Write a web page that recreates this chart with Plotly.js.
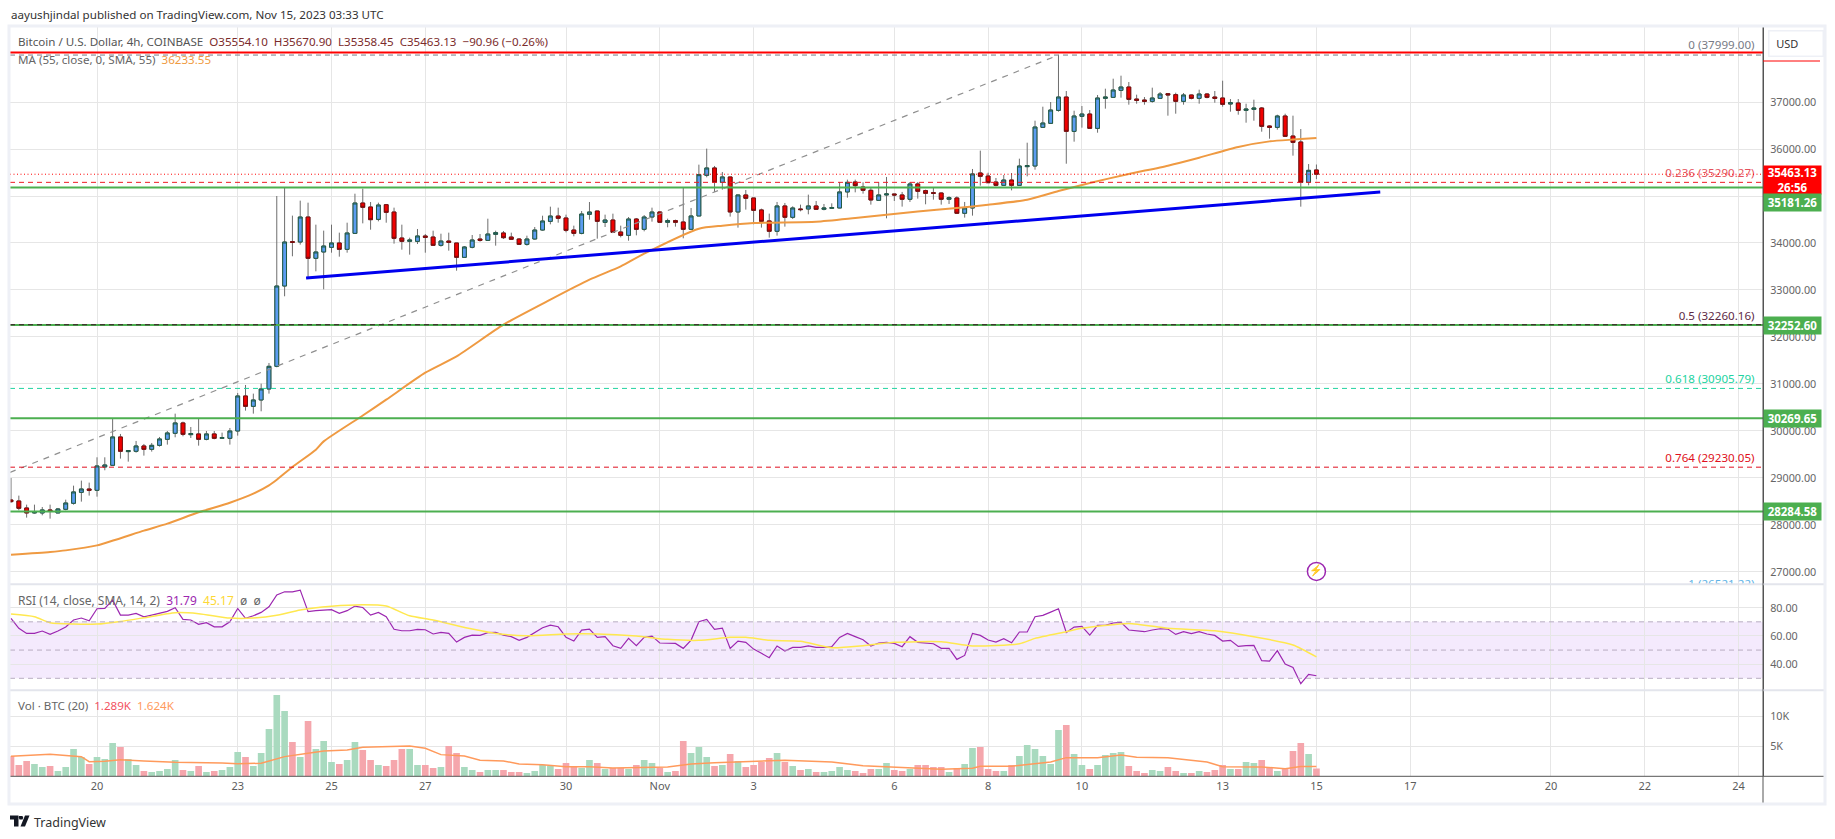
<!DOCTYPE html>
<html>
<head>
<meta charset="utf-8">
<script src="https://cdn.plot.ly/plotly-3.0.1.min.js"></script>
<style>html,body{margin:0;padding:0;background:#fff;overflow:hidden}</style>
</head>
<body>
<div id="chart" style="width:1835px;height:839px"></div>
<script>
const openPrice = [28532,28511,28362,28256,28256,28320,28256,28334,28462,28695,
28766,28738,29235,29270,29873,29561,29568,29681,29610,29695,
29823,29951,30171,29922,29937,29823,29937,29844,29844,30000,
30745,30525,30660,30894,31376,33085,34029,34021,34553,33674,
33809,33908,34000,33865,34205,34851,34766,34503,34815,34659,
34106,34035,34035,34149,34127,33950,34042,34000,33695,33908,
34085,34056,34184,34213,34127,34085,33971,34085,34276,34461,
34574,34532,34276,34205,34610,34681,34439,34489,34234,34163,
34510,34291,34553,34660,34440,34476,34447,34291,34575,35440,
35596,35291,35405,34660,35022,34958,34703,34469,34249,34788,
34547,34724,34724,34788,34717,34738,34745,35086,35298,35192,
35121,34908,35022,35043,35022,34930,35256,35114,35071,35064,
34930,34958,34632,34745,35490,35425,35297,35227,35340,35227,
35624,35638,36461,36546,36822,37106,36375,36695,36744,36439,
37078,37099,37248,37319,37063,37042,37014,37078,37177,37156,
37014,37149,37078,37170,37106,37085,36957,36978,36822,36843,
36872,36489,36461,36702,36276,36149,35290,35554];
const closePrice = [28497,28355,28256,28277,28320,28298,28341,28468,28703,28766,
28738,29256,29277,29873,29568,29582,29681,29610,29695,29830,
29958,30171,29929,29944,29823,29937,29844,29859,30000,30745,
30525,30660,30894,31376,33085,34021,34014,34553,33674,33809,
33936,34000,33865,34213,34851,34759,34496,34808,34652,34099,
34035,34064,34149,34120,33950,34042,34014,33695,33915,34064,
34056,34191,34220,34113,34078,33971,34085,34276,34468,34574,
34525,34269,34205,34617,34659,34461,34489,34227,34163,34510,
34291,34553,34659,34440,34476,34440,34291,34575,35454,35596,
35291,35405,34660,35022,34951,34695,34461,34249,34788,34547,
34745,34710,34788,34717,34745,34752,35086,35291,35220,35121,
34915,35022,35043,35022,34930,35256,35100,35057,35057,34930,
34965,34632,34745,35469,35419,35283,35227,35340,35227,35638,
35645,36468,36553,36829,37106,36375,36702,36744,36439,37085,
37106,37255,37319,37056,37035,37014,37085,37170,37149,37014,
37149,37078,37170,37099,37078,36950,36985,36822,36851,36872,
36482,36461,36702,36269,36141,35290,35546,35463];
const highPrice = [29000,28625,28433,28433,28383,28433,28362,28539,28837,28944,
28901,29440,29440,30270,29937,29589,29788,29724,29745,29873,
30000,30369,30199,30085,30270,30000,30000,29965,30064,30809,
30979,30795,31007,31447,35000,35178,34582,34901,34858,34390,
34263,34390,34220,34432,35049,35156,34872,34858,34830,34752,
34390,34113,34298,34191,34262,34198,34220,34000,33936,34170,
34191,34517,34262,34255,34220,34106,34156,34340,34581,34773,
34752,34603,34369,34681,34872,34681,34603,34624,34369,34553,
34532,34595,34752,34674,34518,34497,35185,34745,35667,36008,
35639,35511,35405,35029,35128,34958,34731,34625,34873,34852,
34781,34816,35029,34894,34830,34844,35298,35348,35348,35291,
35185,35298,35405,35043,35086,35298,35298,35135,35178,35071,
34993,34993,34873,35575,35965,35496,35383,35446,35489,35794,
36134,36602,36900,37000,37999,37234,36815,36914,36829,37149,
37283,37496,37560,37425,37156,37106,37305,37212,37177,37198,
37191,37156,37262,37191,37234,37453,37063,37063,36964,37049,
36893,36503,36730,36751,36709,36425,35680,35670];
const lowPrice = [28469,28312,28157,28242,28206,28135,28249,28312,28433,28497,
28625,28603,29164,29270,29412,29348,29539,29476,29561,29667,
29710,29866,29887,29851,29688,29802,29823,29844,29710,29901,
30433,30369,30419,30795,31355,32866,33717,33965,33256,33397,
33015,33794,33709,33794,34205,34418,34283,34461,34432,33986,
33858,33752,33978,33794,33943,33922,33837,33411,33688,33886,
34028,34049,33943,34085,34071,33964,33943,34071,34262,34397,
34432,34227,34142,34184,34496,34092,34340,34213,34120,34049,
34163,34248,34454,34426,34334,34348,34100,34291,34575,35398,
35086,35135,34561,34327,34710,34398,34327,34114,34157,34348,
34511,34674,34610,34710,34695,34731,34738,34965,35078,35050,
34816,34901,34525,34894,34774,34873,34944,34823,34922,34816,
34830,34625,34540,34582,35220,35276,35205,35219,35120,35227,
35418,35560,36454,36539,36794,35687,36156,36454,36432,36347,
36858,37099,37092,36943,36964,36943,36985,37071,36709,36751,
36943,37056,36964,37078,36985,36900,36794,36730,36560,36602,
36368,36219,36411,36255,35858,34773,35227,35358];

const maBars = [0,5,7,11,17,20,24,28,31,33,34,36,39,40,45,48,53,57,63,69,74,78,81,88,91,95,103,108,116,121,125,130,134,138,143,148,152,157,161,164,167];
const maValues = [27368,27426,27460,27566,27880,28028,28270,28474,28666,28843,28964,29234,29602,29779,30330,30666,31240,31587,32262,32794,33219,33502,33772,34304,34368,34426,34453,34532,34672,34745,34815,34921,35106,35277,35468,35645,35815,36043,36162,36200,36233];

const rsiValues = [72.5,65.4,61.8,61.8,63.5,61.1,63.5,66.3,71.3,72.7,70.8,79.3,79.5,85.4,74.8,74.8,76.0,73.6,74.8,76.0,77.4,80.0,71.7,71.3,68.2,69.4,66.5,66.5,70.1,79.5,72.5,74.3,76.7,80.7,89.0,91.3,91.3,92.5,77.2,77.9,78.4,78.6,76.0,77.9,81.2,80.2,74.8,76.7,73.6,64.7,63.7,63.7,64.7,64.4,61.4,62.5,61.8,55.7,59.0,60.6,60.4,62.3,62.5,60.6,59.5,56.9,59.0,62.5,65.8,67.7,66.5,59.0,56.4,64.2,64.9,59.0,59.5,53.1,51.2,58.3,53.1,
59.0,59.9,55.0,55.0,54.7,51.2,57.1,70.1,71.7,64.7,65.6,51.2,56.4,55.5,50.7,47.7,44.6,52.9,49.3,51.9,51.9,52.9,51.9,51.9,52.4,59.0,61.8,59.5,57.3,52.9,55.0,55.5,54.7,52.4,59.5,55.5,55.0,54.5,51.2,51.2,43.4,46.2,61.8,60.4,57.1,55.7,58.1,55.2,62.8,62.8,73.6,74.6,76.9,79.3,62.5,66.3,66.8,60.6,67.5,67.5,69.2,69.6,64.2,63.5,63.0,64.2,65.1,64.9,61.1,63.0,61.6,63.0,61.4,60.4,56.4,56.9,52.6,53.1,53.3,42.5,42.2,49.6,40.1,37.7,26.2,32.8,31.79];
const rsiMaBars = [0,3,5,8,11,14,17,21,24,28,31,34,37,41,45,48,51,54,59,62,66,71,75,80,84,88,92,94,97,101,105,109,113,119,123,129,131,135,137,143,148,154,159,164,167];
const rsiMaValues = [75.5,73.6,69.4,68.4,68.4,70.3,72.9,76.5,75.8,72.7,72.7,74.6,78.4,81.0,82.1,81.2,74.3,71.3,64.9,61.8,60.2,61.4,61.4,59.9,57.6,56.9,59.0,59.0,56.9,56.2,51.7,53.1,55.5,55.9,52.9,54.5,58.3,63.0,65.4,68.9,65.4,63.7,59.5,53.6,45.17];

const volumeValues = [3389,1889,2556,2056,1556,1722,889,1556,4556,3222,2056,3222,2889,5556,4889,2889,1889,889,722,889,1222,2722,1056,889,1722,722,889,1056,1556,4056,3222,1722,3889,7889,13556,10889,5722,3222,9222,4556,5889,2389,2056,2722,5722,4389,2722,1889,1722,2722,4556,4556,1889,1889,1389,1556,5056,3889,1556,1056,722,1056,1056,1056,722,722,556,889,1889,1722,1222,2222,1556,1389,2722,2222,1222,1389,1389,1222,1889,
2722,2222,1389,722,889,5889,3889,4889,3222,1722,1889,3722,2556,1556,1889,2389,3056,3889,2389,1722,1056,1222,722,722,889,1556,1056,889,556,1222,1222,2222,1056,889,1222,1889,1889,1556,1556,722,1389,2056,4722,4889,1222,889,889,1889,3389,5222,4556,3389,2056,7722,8556,3722,1889,1222,1889,3556,3889,4056,1722,889,556,1056,889,1556,889,556,556,889,722,1056,1889,1222,1222,2389,2222,2722,1556,889,1222,4222,5556,3722,1289];
const volMaBars = [0,2,5,9,10,12,14,17,21,27,29,32,35,38,40,43,45,51,53,55,58,60,63,65,68,71,74,77,80,84,87,90,99,105,109,115,119,123,124,128,133,135,139,142,144,148,153,155,160,163,165,167];
const volMaValues = [3333,3500,3667,3278,2444,2500,2778,2556,2333,2222,2111,2167,3278,3833,4222,4389,4833,5056,4667,3611,3389,2667,2556,2056,1944,1611,1611,1389,1444,1556,2056,2278,2667,2389,1778,1444,1167,1333,1667,1667,2389,3111,3111,3556,3167,3111,2389,1611,1556,1278,1650,1624];

const supportLevels = [35181.26,32252.60,30269.65,28284.58];
const supportLabels = ['35181.26','32252.60','30269.65','28284.58'];
const resistanceLevel = 38055;
const currentPrice = 35463.13;
const fibValues = [37999,35290.27,32260.16,30905.79,29230.05,26521.22];
const fibLabelAnchor = [38074,35340,32310,30955,29280,26600];
const fibLabelText = ['0 (37999.00)','0.236 (35290.27)','0.5 (32260.16)','0.618 (30905.79)','0.764 (29230.05)','1 (26521.22)'];
const fibColors = ['#787b86','#e5525c','#5d2a45','#22d3a0','#e01020','#5fb3e6'];
const priceTicks = [27000,28000,29000,30000,31000,32000,33000,34000,35000,36000,37000];
const rsiTicks = [40,60,80];
const volTicks = [5000,10000];
const volTickText = ['5K','10K'];
const dateTicks = ['2023-10-20','2023-10-23','2023-10-25','2023-10-27','2023-10-30','2023-11-01','2023-11-03','2023-11-06','2023-11-08','2023-11-10','2023-11-13','2023-11-15','2023-11-17','2023-11-20','2023-11-22','2023-11-24'];
const dateTickText = ['20','23','25','27','30','Nov','3','6','8','10','13','15','17','20','22','24'];
const trendDates = ['2023-10-18 03:30','2023-11-09 12:00'];
const trendPrices = [29119,37999];
const blueDates = ['2023-10-24 11:00','2023-11-16 08:40'];
const bluePrices = [33255,35085];

const W = 1835, H = 839;
const X = p => p / W, Y = p => 1 - p / H;
const FONT = 'Noto Sans';
const barDate = i => new Date(Date.UTC(2023, 9, 18, 4) + i * 4 * 3600e3).toISOString().slice(0, 16).replace('T', ' ');
const dates = openPrice.map((_, i) => barDate(i));
const atBars = arr => arr.map(barDate);
const bodyTop = openPrice.map((o, i) => Math.max(o, closePrice[i]));
const bodyBottom = openPrice.map((o, i) => Math.min(o, closePrice[i]));
const BODY = 4 * 3600e3 * 0.66;

const traces = [
  {type:'candlestick', x:dates, open:openPrice, high:highPrice, low:lowPrice, close:closePrice, xaxis:'x', yaxis:'y', width:BODY,
   increasing:{line:{color:'#6e6e6e',width:1}, fillcolor:'#6e6e6e'}, decreasing:{line:{color:'#6e6e6e',width:1}, fillcolor:'#6e6e6e'}, whiskerwidth:0},
  {type:'candlestick', x:dates, open:openPrice, high:bodyTop, low:bodyBottom, close:closePrice, xaxis:'x', yaxis:'y', width:BODY,
   increasing:{line:{color:'#1f5a45',width:1}, fillcolor:'#5b9cf0'}, decreasing:{line:{color:'#7a0c0c',width:1}, fillcolor:'#f00000'}, whiskerwidth:0},
  {type:'scatter', mode:'lines', x:atBars(maBars), y:maValues, line:{color:'#ef9a42',width:2,shape:'spline',smoothing:0.6}, xaxis:'x', yaxis:'y'},
  {type:'scatter', mode:'lines', x:trendDates, y:trendPrices, line:{color:'#8f8f8f',width:1.2,dash:'6px,6px'}, xaxis:'x', yaxis:'y'},
  {type:'scatter', mode:'lines', x:blueDates, y:bluePrices, line:{color:'#0000ee',width:3}, xaxis:'x', yaxis:'y'},
  {type:'scatter', mode:'markers+text', x:['2023-11-15'], y:[27013], text:['⚡'], textposition:'middle center', textfont:{color:'#9c27b0',size:11},
   marker:{size:18,color:'#ffffff',line:{color:'#9c27b0',width:1.5}}, xaxis:'x', yaxis:'y'},
  {type:'scatter', mode:'text', x:fibValues.map(()=>'2023-11-24 08:10'), y:fibLabelAnchor, text:fibLabelText, textposition:'top left',
   textfont:{family:FONT,size:11.6,color:fibColors}, xaxis:'x', yaxis:'y', cliponaxis:true},
  {type:'scatter', mode:'lines', x:dates, y:rsiValues, line:{color:'#9c27b0',width:1.2}, xaxis:'x2', yaxis:'y2'},
  {type:'scatter', mode:'lines', x:atBars(rsiMaBars), y:rsiMaValues, line:{color:'#ffe84f',width:1.5,shape:'spline',smoothing:0.6}, xaxis:'x2', yaxis:'y2'},
  {type:'bar', x:dates, y:volumeValues, marker:{color:openPrice.map((o,i)=>closePrice[i]>=o?'#a9dabf':'#f5a6ac'), line:{width:0}}, xaxis:'x3', yaxis:'y3'},
  {type:'scatter', mode:'lines', x:atBars(volMaBars), y:volMaValues, line:{color:'#ff9a5c',width:1.5}, xaxis:'x3', yaxis:'y3'}
];

const RANGE = ['2023-10-18 03:29','2023-11-24 12:31'];
const gridColor = '#e6e6e6';
const xBase = {type:'date', range:RANGE, domain:[X(10),X(1763)], tickmode:'array', tickvals:dateTicks, ticktext:dateTickText,
  showgrid:true, gridcolor:gridColor, gridwidth:1, zeroline:false, showline:false, ticks:'', fixedrange:true,
  rangeslider:{visible:false}};
const yBase = {side:'right', zeroline:false, gridcolor:gridColor, gridwidth:1, showgrid:true, tickmode:'array', ticks:'', fixedrange:true,
  showline:true, linecolor:'#555555', linewidth:1, ticklabelstandoff:4,
  tickfont:{family:FONT,size:10.8,color:'#666666'}};

const pxLine = (x0,y0,x1,y1,color,width) => ({type:'line',xref:'paper',yref:'paper',x0:X(x0),y0:Y(y0),x1:X(x1),y1:Y(y1),line:{color,width},layer:'above'});
const levelLine = (v,color,width,dash,yref='y') => ({type:'line',xref:'paper',yref,x0:X(10),x1:X(1763),y0:v,y1:v,line:{color,width,dash},layer:'above'});

const P = (x,y) => X(x).toFixed(5)+','+Y(y).toFixed(5);
const logoT = `M${P(10,815.5)} L${P(18.5,815.5)} L${P(18.5,826.5)} L${P(14,826.5)} L${P(14,819.5)} L${P(10,819.5)} Z`;
const logoDot = `M${P(19,816)} L${P(22.5,816)} L${P(23.2,817.8)} L${P(22.5,819.5)} L${P(19.5,819.5)} L${P(18.8,817.8)} Z`;
const logoV = `M${P(25,815.5)} L${P(29.5,815.5)} L${P(25,826.5)} L${P(20.5,826.5)} Z`;

const shapes = [
  {type:'rect',xref:'paper',yref:'y2',x0:X(10),x1:X(1763),y0:30,y1:70,fillcolor:'rgba(156,60,235,0.11)',line:{width:0},layer:'below'},
  levelLine(70,'#b8adc2',1,'5px,4px','y2'),
  levelLine(50,'#b8adc2',1,'5px,4px','y2'),
  levelLine(30,'#b8adc2',1,'5px,4px','y2'),
  levelLine(resistanceLevel,'#ff0000',2,'solid'),
  levelLine(currentPrice,'#ff0000',1,'1px,2.5px'),
  ...supportLevels.map(v=>levelLine(v,'#4caf50',2,'solid')),
  ...fibValues.slice(0,5).map((v,i)=>levelLine(v,i===2?'#3a1024':(i===1?'#ee1c25':fibColors[i]),1,'5px,4px')),
  pxLine(10,584.3,1825,584.3,'#e3e5ec',2),
  pxLine(10,690.3,1825,690.3,'#e3e5ec',2),
  pxLine(10,776.3,1825,776.3,'#555555',1),
  pxLine(1763,26,1763,803,'#555555',1),
  pxLine(1763,61,1820,61,'#ff0000',1),
  {type:'rect',xref:'paper',yref:'paper',x0:X(9),x1:X(1825),y0:Y(26),y1:Y(804),line:{color:'#eef0f6',width:3},fillcolor:'rgba(0,0,0,0)',layer:'above'},
  {type:'path',xref:'paper',yref:'paper',path:logoT,fillcolor:'#131722',line:{width:0}},
  {type:'path',xref:'paper',yref:'paper',path:logoDot,fillcolor:'#131722',line:{width:0}},
  {type:'path',xref:'paper',yref:'paper',path:logoV,fillcolor:'#131722',line:{width:0}}
];

const txt = (x,y,text,size,color,extra={}) => Object.assign({xref:'paper',yref:'paper',x:X(x),y:Y(y),xanchor:'left',yanchor:'middle',text,showarrow:false,
  font:{family:FONT,size,color},align:'left'},extra);
const tag = (v,label) => ({xref:'paper',yref:'y',x:X(1763),y:v,xanchor:'left',yanchor:'middle',text:'<b>'+label+'</b>',showarrow:false,
  font:{family:FONT,size:11.5,color:'#ffffff'},bgcolor:'#4caf50',width:57,height:17,align:'center',borderpad:0});
const c = (col,t) => `<span style="color:${col}">${t}</span>`;
const DR = '#7b2b2b';

const annotations = [
  txt(8.5,15,'aayushjindal published on TradingView.com, Nov 15, 2023 03:33 UTC',11.6,'#333333'),
  txt(16,41.7,c('#555555','Bitcoin / U.S. Dollar, 4h, COINBASE')+'  '+c(DR,'O35554.10  H35670.90  L35358.45  C35463.13  −90.96 (−0.26%)'),11.6,DR),
  txt(16,59,c('#666666','MA (55, close, 0, SMA, 55)')+'  '+c('#ef9a42','36233.55'),11.6,'#666666'),
  txt(16,600,c('#666666','RSI (14, close, SMA, 14, 2)')+'  '+c('#9c27b0','31.79')+'  '+c('#fdd835','45.17')+'  '+c('#666666','ø  ø'),12,'#666666'),
  txt(16,705.7,c('#666666','Vol · BTC (20)')+'  '+c('#f2525f','1.289K')+'  '+c('#ff9a5c','1.624K'),11.6,'#666666'),
  txt(32,822,'TradingView',12.5,'#333333'),
  {xref:'paper',yref:'paper',x:X(1768),y:Y(44),xanchor:'left',yanchor:'middle',text:'&nbsp;&nbsp;USD',showarrow:false,font:{family:FONT,size:11,color:'#333333'},
    bordercolor:'#eef0f6',borderwidth:1.5,bgcolor:'#ffffff',width:51,height:22,align:'left'},
  {xref:'paper',yref:'paper',x:X(1763),y:Y(180),xanchor:'left',yanchor:'middle',text:'<b>35463.13</b><br><b>26:56</b>',showarrow:false,
    font:{family:FONT,size:11.5,color:'#ffffff'},bgcolor:'#ff0000',width:57,height:28,align:'center',borderpad:0},
  {xref:'paper',yref:'paper',x:X(1763),y:Y(202.5),xanchor:'left',yanchor:'middle',text:'<b>35181.26</b>',showarrow:false,
    font:{family:FONT,size:11.5,color:'#ffffff'},bgcolor:'#4caf50',width:57,height:16.5,align:'center',borderpad:0},
  tag(supportLevels[1],supportLabels[1]),
  tag(supportLevels[2],supportLabels[2]),
  tag(supportLevels[3],supportLabels[3])
];

const layout = {
  width:W, height:H, autosize:false, margin:{l:0,r:0,t:0,b:0,pad:0},
  paper_bgcolor:'#ffffff', plot_bgcolor:'#ffffff', showlegend:false, hovermode:false, dragmode:false, bargap:0.15,
  font:{family:FONT},
  xaxis:Object.assign({},xBase,{anchor:'y',showticklabels:false}),
  xaxis2:Object.assign({},xBase,{anchor:'y2',showticklabels:false,matches:'x'}),
  xaxis3:Object.assign({},xBase,{anchor:'y3',showticklabels:true,matches:'x',ticklabelstandoff:2,tickfont:{family:FONT,size:11,color:'#5c5c5c'}}),
  yaxis:Object.assign({},yBase,{anchor:'x',domain:[Y(584.3),Y(26)],range:[26738,38617],tickvals:priceTicks,tickformat:'.2f'}),
  yaxis2:Object.assign({},yBase,{anchor:'x2',domain:[Y(690.3),Y(584.3)],range:[21.5,96.6],tickvals:rsiTicks,tickformat:'.2f'}),
  yaxis3:Object.assign({},yBase,{anchor:'x3',domain:[Y(776.3),Y(690.3)],range:[0,14333],tickvals:volTicks,ticktext:volTickText}),
  shapes, annotations
};

Plotly.newPlot('chart', traces, layout, {displayModeBar:false, staticPlot:true, responsive:false});
</script>
</body>
</html>
